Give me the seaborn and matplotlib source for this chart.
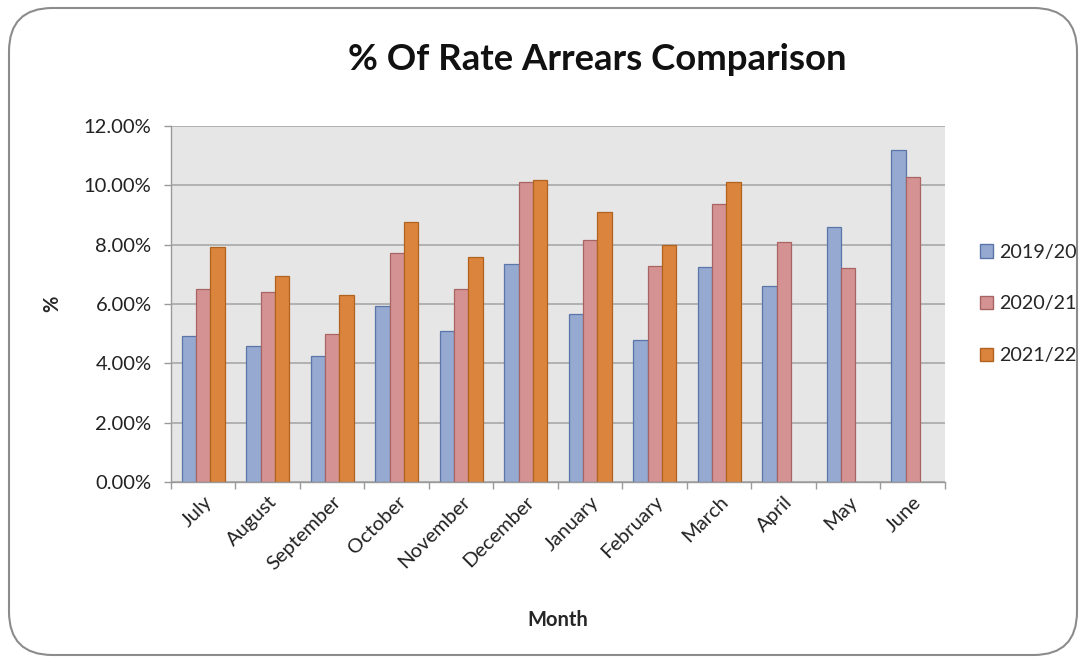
import matplotlib
matplotlib.use("Agg")
import matplotlib.pyplot as plt
from matplotlib.patches import FancyBboxPatch, Patch
from matplotlib.ticker import FuncFormatter, FixedLocator
import seaborn as sns
import pandas as pd
import numpy as np

months = ["July", "August", "September", "October", "November", "December",
          "January", "February", "March", "April", "May", "June"]
years = ["2019/20", "2020/21", "2021/22"]
v2019 = [4.91, 4.60, 4.25, 5.94, 5.08, 7.35, 5.66, 4.80, 7.26, 6.60, 8.60, 11.19]
v2020 = [6.49, 6.42, 4.99, 7.73, 6.49, 10.11, 8.17, 7.27, 9.38, 8.09, 7.21, 10.29]
v2021 = [7.91, 6.94, 6.30, 8.75, 7.60, 10.19, 9.10, 8.00, 10.12, np.nan, np.nan, np.nan]

fills = ["#95A9D1", "#D49392", "#DB843D"]
edges = ["#5A76A8", "#A86463", "#B0621F"]

df = pd.DataFrame({
    "Month": months * 3,
    "Year": [years[0]] * 12 + [years[1]] * 12 + [years[2]] * 12,
    "Value": v2019 + v2020 + v2021,
})

sns.set_theme(style="white")
plt.rcParams["font.family"] = ["Lato", "DejaVu Sans"]

fig = plt.figure(figsize=(10.86, 6.63), dpi=100)
ax = fig.add_axes([171 / 1086, 1 - 482 / 663, (945 - 171) / 1086, (482 - 126) / 663])

sns.barplot(data=df, x="Month", y="Value", hue="Year", order=months, hue_order=years,
            palette=fills, width=0.67, gap=0, saturation=1, ax=ax, legend=False,
            errorbar=None, linewidth=0.9)
for cont, ec in zip(ax.containers, edges):
    for bar in cont:
        bar.set_edgecolor(ec)

ax.set_facecolor("#E6E6E6")
ax.set_ylim(0, 12)
ax.set_xlim(-0.5, 11.5)
ax.set_yticks(np.arange(0, 12.01, 2))
ax.yaxis.set_major_formatter(FuncFormatter(lambda v, p: f"{v:.2f}%"))
ax.grid(axis="y", color="#A8A8A8", linewidth=1.2)
ax.set_axisbelow(True)
for s in ["top", "right"]:
    ax.spines[s].set_visible(False)
for s in ["left", "bottom"]:
    ax.spines[s].set_color("#9A9A9A")
    ax.spines[s].set_linewidth(1.0)

ax.tick_params(axis="y", which="major", length=5, color="#9A9A9A", width=1,
               labelsize=14.5, labelcolor="#222222", pad=9, left=True)
ax.tick_params(axis="x", which="major", length=0, labelsize=14.5, labelcolor="#222222", pad=8)
ax.xaxis.set_minor_locator(FixedLocator(np.arange(-0.5, 12, 1)))
ax.tick_params(axis="x", which="minor", length=5, color="#9A9A9A", width=1, bottom=True)
for lab in ax.get_xticklabels():
    lab.set_rotation(45)
    lab.set_ha("right")
    lab.set_rotation_mode("anchor")

ax.set_xlabel("Month", fontsize=14.5, fontweight="bold")
ax.set_ylabel("%", fontsize=14.5, fontweight="bold")
ax.xaxis.set_label_coords(0.5, (482 - 610) / 356)
ax.yaxis.set_label_coords((62 - 171) / 774, 0.5)

fig.text(597 / 1086, 1 - 60 / 663, "% Of Rate Arrears Comparison", ha="center", va="center",
         fontsize=26.3, fontweight="bold", color="#111111")

handles = [Patch(facecolor=f, edgecolor=e, label=y) for f, e, y in zip(fills, edges, years)]
fig.legend(handles=handles, loc="center left", bbox_to_anchor=(980 / 1086, 1 - 304 / 663),
           frameon=False, fontsize=14.2, labelspacing=1.75, handlelength=0.65, handleheight=0.65,
           handletextpad=0.3, borderpad=0, borderaxespad=0)

border = FancyBboxPatch((9 / 1086, 8 / 663), 1068 / 1086, 647 / 663,
                        boxstyle="round,pad=0,rounding_size=0.04", transform=fig.transFigure,
                        facecolor="none", edgecolor="#8C8C8C", linewidth=1.5,
                        mutation_aspect=1086 / 663)
fig.patches.append(border)

fig.savefig("out.png", dpi=100, facecolor="white")
